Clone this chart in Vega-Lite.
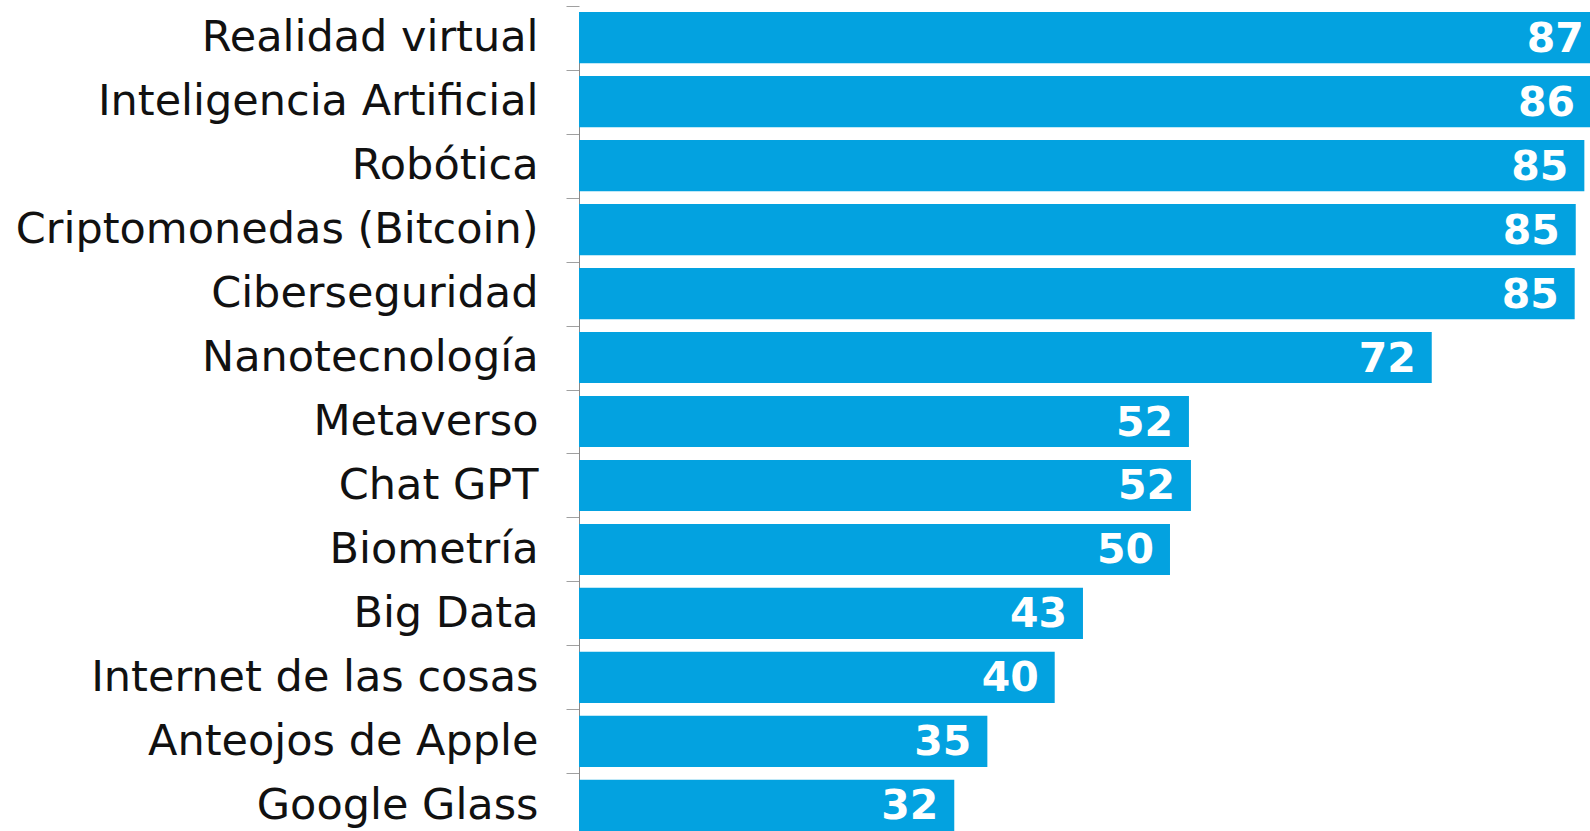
{
  "$schema": "https://vega.github.io/schema/vega-lite/v6.json",
  "width": 1011,
  "height": 819,
  "autosize": {"type": "none"},
  "padding": {"left": 579, "top": 12, "right": 0, "bottom": 0},
  "background": "white",
  "config": {"view": {"stroke": null}},
  "data": {
    "values": [
      {"tecnologia": "Realidad virtual", "valor": 86.7},
      {"tecnologia": "Inteligencia Artificial", "valor": 85.95},
      {"tecnologia": "Robótica", "valor": 85.38},
      {"tecnologia": "Criptomonedas (Bitcoin)", "valor": 84.65},
      {"tecnologia": "Ciberseguridad", "valor": 84.56},
      {"tecnologia": "Nanotecnología", "valor": 72.42},
      {"tecnologia": "Metaverso", "valor": 51.8},
      {"tecnologia": "Chat GPT", "valor": 51.97},
      {"tecnologia": "Biometría", "valor": 50.19},
      {"tecnologia": "Big Data", "valor": 42.8},
      {"tecnologia": "Internet de las cosas", "valor": 40.4},
      {"tecnologia": "Anteojos de Apple", "valor": 34.68},
      {"tecnologia": "Google Glass", "valor": 31.87}
    ]
  },
  "encoding": {
    "y": {
      "field": "tecnologia",
      "type": "nominal",
      "sort": null,
      "scale": {"paddingInner": 0.2, "paddingOuter": 0},
      "axis": {
        "title": null,
        "domainColor": "#8a8a8a",
        "domainWidth": 1,
        "tickColor": "#a0a0a0",
        "tickWidth": 1,
        "tickSize": 13,
        "tickOffset": -32,
        "labelOffset": 32,
        "labelPadding": 28,
        "labelFont": "DejaVu Sans",
        "labelFontSize": 43,
        "labelColor": "#111111",
        "labelLimit": 0
      }
    },
    "x": {
      "field": "valor",
      "type": "quantitative",
      "scale": {"domain": [0, 85.86], "nice": false, "zero": true},
      "axis": null
    }
  },
  "layer": [
    {"mark": {"type": "bar", "color": "#03A2E0", "clip": true}},
    {
      "mark": {
        "type": "text",
        "align": "right",
        "baseline": "middle",
        "dx": -16,
        "dy": 2,
        "color": "white",
        "font": "DejaVu Sans",
        "fontWeight": "bold",
        "fontSize": 41
      },
      "encoding": {"text": {"field": "valor", "type": "quantitative", "format": ".0f"}}
    }
  ]
}
